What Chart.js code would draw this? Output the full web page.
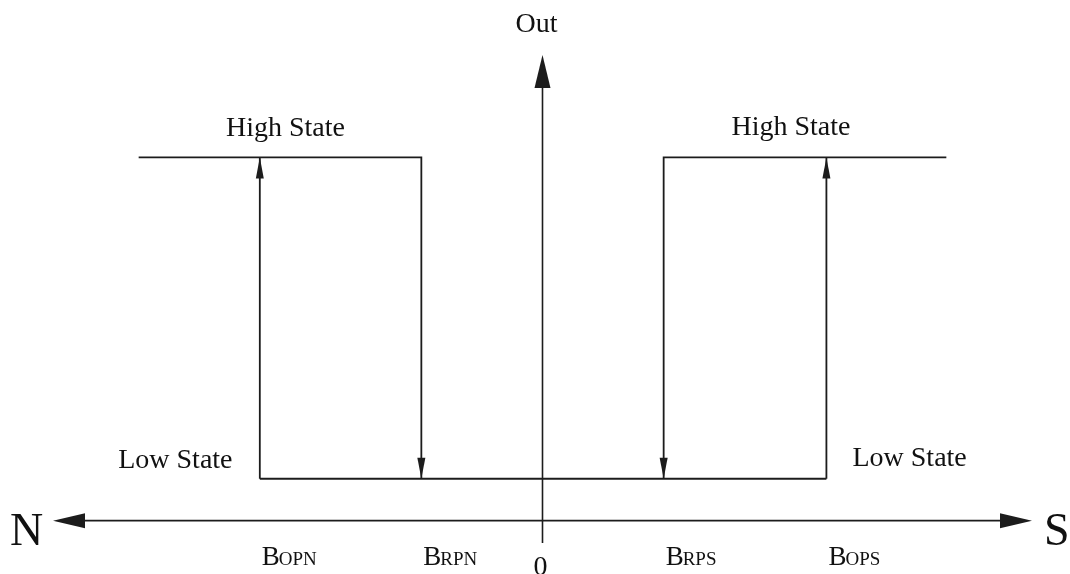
<!DOCTYPE html>
<html>
<head>
<meta charset="utf-8">
<script src="https://cdn.jsdelivr.net/npm/chart.js@4.4.1/dist/chart.umd.min.js"></script>
<style>
    html, body { margin: 0; padding: 0; background: #fff; }
    #wrap { width: 1070px; height: 574px; position: relative; }
</style>
</head>
<body>
<div id="wrap"><canvas id="hystChart"></canvas></div>
<script>
/* ===========================
Data
=========================== */

const fieldRange = [-4, 4];          // N ... S
const outRange = [-0.24, 5];

const switchFields = [-2.31, -0.99, 0.99, 2.32];   // BOPN, BRPN, BRPS, BOPS
const tickMain = ["B", "B", "B", "B"];
const tickSub = ["OPN", "RPN", "RPS", "OPS"];

const outLevels = [0.45, 3.9];       // low state, high state
const highEnds = [-3.3, 3.3];

const stateLabels = ["High State", "High State", "Low State", "Low State"];
const axisLabels = ["N", "S", "Out", "0"];

/* ===========================
Helpers
=========================== */

const INK = "#1c1c1c";
const SERIF = "'Liberation Serif', 'DejaVu Serif', serif";

const LOW = outLevels[0];
const HIGH = outLevels[1];

function seg(points, arrow) {
    return {
        data: points.map(p => ({ x: p[0], y: p[1] })),
        showLine: true,
        borderColor: INK,
        borderWidth: 1.8,
        pointRadius: 0,
        fill: false,
        arrow: arrow
    };
}

function triangle(ctx, tipX, tipY, dx, dy, len, half) {
    // dx, dy: unit direction of travel
    let bx = tipX - dx * len;
    let by = tipY - dy * len;
    ctx.beginPath();
    ctx.moveTo(tipX, tipY);
    ctx.lineTo(bx - dy * half, by + dx * half);
    ctx.lineTo(bx + dy * half, by - dx * half);
    ctx.closePath();
    ctx.fill();
}

/* ===========================
Axes, arrows and texts
=========================== */

const diagramPlugin = {

    id: "diagram",

    beforeDatasetsDraw(chart) {

        const ctx = chart.ctx;
        const xs = chart.scales.x;
        const ys = chart.scales.y;
        const x0 = xs.getPixelForValue(0);
        const y0 = ys.getPixelForValue(0);

        ctx.save();
        ctx.strokeStyle = INK;
        ctx.fillStyle = INK;
        ctx.lineWidth = 1.6;

        // horizontal field axis
        ctx.beginPath();
        ctx.moveTo(xs.left + 20, y0);
        ctx.lineTo(xs.right - 20, y0);
        ctx.stroke();
        triangle(ctx, xs.left, y0, -1, 0, 32, 7.5);
        triangle(ctx, xs.right, y0, 1, 0, 32, 7.5);

        // vertical output axis
        ctx.beginPath();
        ctx.moveTo(x0, ys.bottom);
        ctx.lineTo(x0, ys.top + 20);
        ctx.stroke();
        triangle(ctx, x0, ys.top, 0, -1, 33, 8);

        ctx.restore();
    },

    afterDatasetsDraw(chart) {

        const ctx = chart.ctx;
        const xs = chart.scales.x;
        const ys = chart.scales.y;
        const x0 = xs.getPixelForValue(0);
        const y0 = ys.getPixelForValue(0);

        ctx.save();
        ctx.fillStyle = INK;

        // arrow heads on the switching lines
        chart.data.datasets.forEach((ds, i) => {
            if (!ds.arrow) return;
            const pts = chart.getDatasetMeta(i).data;
            const a = pts[pts.length - 2];
            const b = pts[pts.length - 1];
            const d = Math.hypot(b.x - a.x, b.y - a.y);
            triangle(ctx, b.x, b.y, (b.x - a.x) / d, (b.y - a.y) / d, 21, 4);
        });

        ctx.fillStyle = "#111";
        ctx.textBaseline = "alphabetic";

        // state labels
        ctx.font = "28px " + SERIF;
        ctx.textAlign = "center";
        ctx.fillText(stateLabels[0], xs.getPixelForValue(-2.1), ys.getPixelForValue(HIGH) - 21);
        ctx.fillText(stateLabels[1], xs.getPixelForValue(2.03), ys.getPixelForValue(HIGH) - 22);
        ctx.fillText(stateLabels[2], xs.getPixelForValue(-3.0), ys.getPixelForValue(LOW) - 11);
        ctx.fillText(stateLabels[3], xs.getPixelForValue(3.0), ys.getPixelForValue(LOW) - 13);

        // Out label
        ctx.fillText(axisLabels[2], x0 - 6, 32);

        // zero
        ctx.fillText(axisLabels[3], x0 - 2, y0 + 54);

        // N / S
        ctx.font = "46px " + SERIF;
        ctx.textAlign = "left";
        ctx.fillText(axisLabels[0], 10, y0 + 24);
        ctx.fillText(axisLabels[1], xs.right + 12, y0 + 24);

        // threshold labels, B with small-caps subscript
        switchFields.forEach((v, i) => {
            let px = xs.getPixelForValue(v) + 2;
            let py = y0 + 44;
            ctx.font = "27px " + SERIF;
            ctx.fillText(tickMain[i], px, py);
            let w = ctx.measureText(tickMain[i]).width;
            ctx.font = "19px " + SERIF;
            ctx.fillText(tickSub[i], px + w - 1, py);
        });

        ctx.restore();
    }
};

/* ===========================
Chart
=========================== */

const BOPN = switchFields[0];
const BRPN = switchFields[1];
const BRPS = switchFields[2];
const BOPS = switchFields[3];

new Chart(document.getElementById("hystChart"), {

    type: "scatter",

    data: {
        datasets: [
            seg([[highEnds[0], HIGH], [BRPN, HIGH], [BRPN, LOW]], true),
            seg([[BOPN, LOW], [BOPN, HIGH]], true),
            seg([[BOPN, LOW], [BOPS, LOW]], false),
            seg([[highEnds[1], HIGH], [BRPS, HIGH], [BRPS, LOW]], true),
            seg([[BOPS, LOW], [BOPS, HIGH]], true)
        ]
    },

    options: {
        responsive: true,
        maintainAspectRatio: false,
        animation: false,
        layout: {
            padding: { left: 53, right: 38, top: 55, bottom: 31 }
        },
        plugins: {
            legend: { display: false },
            tooltip: { enabled: false }
        },
        scales: {
            x: { type: "linear", display: false, min: fieldRange[0], max: fieldRange[1] },
            y: { type: "linear", display: false, min: outRange[0], max: outRange[1] }
        }
    },

    plugins: [diagramPlugin]
});
</script>
</body>
</html>
